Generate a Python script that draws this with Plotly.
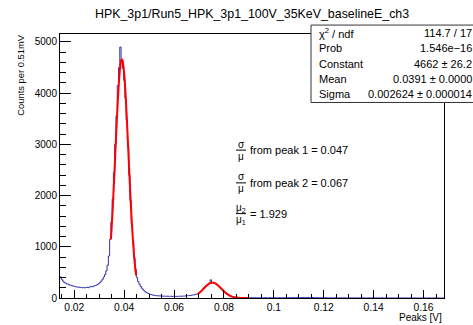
import plotly.graph_objects as go

# ---------------- data ----------------
bin_lo = 0.0143
bin_width = 0.00051
counts = [
    410, 360, 330, 300, 290, 275, 270, 255, 250, 240,
    232, 228, 220, 215, 210, 212, 205, 200, 203, 198,
    205, 210, 202, 215, 225, 218, 232, 240, 250, 262,
    280, 300, 330, 365, 410, 460, 530, 640, 820, 1150,
    1480, 1930, 2450, 3000, 3560, 4150, 4500, 4900, 4620, 4480,
    4250, 3900, 3480, 2960, 2400, 1900, 1450, 1080, 780, 560,
    400, 320, 270, 225, 190, 160, 135, 115, 100, 88,
    76, 68, 60, 55, 50, 46, 44, 41, 42, 38,
    36, 37, 35, 33, 36, 34, 32, 35, 30, 33,
    31, 34, 30, 33, 36, 34, 38, 37, 40, 42,
    45, 48, 50, 55, 58, 62, 68, 75, 90, 105,
    128, 152, 178, 205, 232, 250, 275, 292, 355, 310,
    300, 285, 280, 255, 240, 212, 186, 162, 138, 115,
    94, 75, 60, 46, 35, 27, 20, 16, 12, 10,
    8, 7, 8, 6, 7, 6, 5, 6, 7, 5,
    6, 5, 6, 5, 4, 6, 5, 5, 4, 5,
    6, 5, 4, 5, 5, 6, 4, 5, 5, 4,
    5, 5, 6, 5, 4, 6, 5, 5, 6, 7,
    6, 7, 8, 7, 8, 9, 8, 10, 9, 10,
    9, 10, 11, 10, 9, 10, 9, 8, 9, 8,
    7, 7, 6, 6, 5, 5, 4, 5, 4, 4,
    3, 4, 3, 3, 4, 3, 3, 2, 3, 3,
    2, 3, 2, 2, 3, 2, 2, 3, 2, 2,
    2, 2, 2, 1, 2, 2, 1, 2, 2, 1,
    2, 1, 2, 1, 1, 2, 1, 1, 2, 1,
    1, 1, 1, 2, 1, 1, 1, 1, 0, 1,
    1, 1, 1, 0, 1, 1, 0, 1, 1, 0,
    1, 0, 1, 1, 0, 1, 0, 0, 1, 0,
    1, 0, 0, 1, 0, 0, 1, 0, 0, 0,
    1, 0, 0, 0, 1, 0, 0, 0, 0, 0,
    0, 0,
]

fit1_x = [0.0347, 0.0350, 0.0355, 0.0360, 0.0365, 0.0370, 0.0375, 0.0380, 0.0385,
          0.0388, 0.0391, 0.0394, 0.0395, 0.0400, 0.0405, 0.0410, 0.0415, 0.0420,
          0.0425, 0.0430, 0.0435, 0.0440, 0.0445, 0.0448]
fit1_y = [1143, 1375, 1819, 2320, 2854, 3385, 3871, 4270, 4542,
          4632, 4662, 4632, 4608, 4396, 4044, 3587, 3069, 2532,
          2014, 1545, 1143, 815, 561, 440]

fit2_x = [0.0695, 0.0700, 0.0705, 0.0710, 0.0715, 0.0720, 0.0725, 0.0730, 0.0735,
          0.0740, 0.0745, 0.0750, 0.07542, 0.0760, 0.0765, 0.0770, 0.0775, 0.0780,
          0.0785, 0.0790, 0.0795, 0.0800, 0.0810, 0.0820, 0.0830, 0.0840, 0.0850,
          0.0860, 0.0870, 0.0880, 0.0895]
fit2_y = [74, 93, 115, 138, 163, 188, 214, 238, 259,
          277, 290, 298, 300, 296, 286, 272, 253, 230,
          206, 180, 155, 130, 87, 54, 31, 16, 8,
          3.5, 1.4, 0.6, 0.1]

stats_labels = ["χ<sup>2</sup> / ndf", "Prob", "Constant", "Mean", "Sigma"]
stats_values = ["114.7 / 17", "1.546e\u221216", "4662 ± 26.2", "0.0391 ± 0.0000", "0.002624 ± 0.000014"]

title_text = "HPK_3p1/Run5_HPK_3p1_100V_35KeV_baselineE_ch3"
x_title = "Peaks [V]"
y_title = "Counts per 0.51mV"
ratio_texts = ["from peak 1 = 0.047", "from peak 2 = 0.067", "= 1.929"]

# ---------------- figure ----------------
W, H = 473, 325
L, R, T, B = 60, 444, 34, 300


def px(x):
    return (x - L) / (R - L)


def py(y):
    return (B - y) / (B - T)


edges = [bin_lo + bin_width * i for i in range(len(counts) + 1)]
hy = counts + [counts[-1]]

FONT = "Liberation Sans, Arial, Helvetica, sans-serif"
BLUE = "#3030b0"

fig = go.Figure()
fig.add_trace(go.Scatter(x=edges, y=hy, mode="lines", line=dict(color=BLUE, width=1, shape="hv"),
                         hoverinfo="skip", showlegend=False))
fig.add_trace(go.Scatter(x=fit1_x, y=fit1_y, mode="lines", line=dict(color="#ff0000", width=2, shape="spline"),
                         hoverinfo="skip", showlegend=False))
fig.add_trace(go.Scatter(x=fit2_x, y=fit2_y, mode="lines", line=dict(color="#ff0000", width=2, shape="spline"),
                         hoverinfo="skip", showlegend=False))

ann = []
shapes = []

# title
ann.append(dict(text=title_text, x=0.5, y=py(14), xref="paper", yref="paper", showarrow=False,
                xanchor="center", yanchor="middle", font=dict(size=12.4, color="black", family=FONT)))
# axis titles
ann.append(dict(text=y_title, x=px(21), y=py(75), xref="paper", yref="paper", showarrow=False,
                textangle=-90, xanchor="center", yanchor="middle", font=dict(size=9.4, color="black", family=FONT)))
ann.append(dict(text=x_title, x=1.0, y=py(319.5), xref="paper", yref="paper", showarrow=False,
                xanchor="right", yanchor="middle", font=dict(size=10, color="black", family=FONT)))

# stats box
shapes.append(dict(type="rect", xref="paper", yref="paper", x0=px(311), x1=px(490), y0=py(25), y1=py(103),
                   line=dict(color="#333333", width=1), fillcolor="white", layer="above"))
row_y = [33.3, 48.6, 63.8, 79.1, 94.3]
for lab, val, yy in zip(stats_labels, stats_values, row_y):
    ann.append(dict(text=lab, x=px(317), y=py(yy), xref="paper", yref="paper", showarrow=False,
                    xanchor="left", yanchor="middle", font=dict(size=11, color="black", family=FONT)))
    ann.append(dict(text=val, x=px(474), y=py(yy), xref="paper", yref="paper", showarrow=False,
                    xanchor="right", yanchor="middle", font=dict(size=11, color="black", family=FONT)))

# ratio texts
frac_rows = [("σ", "μ", 151), ("σ", "μ", 184), ("μ<sub>2</sub>", "μ<sub>1</sub>", 215)]
for (num, den, yc), txt in zip(frac_rows, ratio_texts):
    ann.append(dict(text=num, x=px(241), y=py(yc - 6), xref="paper", yref="paper", showarrow=False,
                    xanchor="center", yanchor="middle", font=dict(size=10, color="black", family=FONT)))
    ann.append(dict(text=den, x=px(241), y=py(yc + 6), xref="paper", yref="paper", showarrow=False,
                    xanchor="center", yanchor="middle", font=dict(size=10, color="black", family=FONT)))
    shapes.append(dict(type="line", xref="paper", yref="paper", x0=px(236), x1=px(246), y0=py(yc), y1=py(yc),
                       line=dict(color="black", width=1)))
    ann.append(dict(text=txt, x=px(248), y=py(yc), xref="paper", yref="paper", showarrow=False,
                    xanchor="left", yanchor="middle", font=dict(size=11, color="black", family=FONT)))

fig.update_layout(
    width=W, height=H,
    margin=dict(l=L, r=W - R, t=T, b=H - B, pad=0),
    paper_bgcolor="white", plot_bgcolor="white",
    font=dict(family=FONT, color="black"),
    annotations=ann, shapes=shapes,
    showlegend=False,
    hovermode=False,
    xaxis=dict(range=[0.0143, 0.1682], tick0=0, dtick=0.02, ticks="inside", ticklen=8, tickwidth=1,
               tickcolor="black", showline=True, linecolor="black", linewidth=1, mirror=True,
               showgrid=False, zeroline=False, tickfont=dict(size=10.3, color="black", family=FONT),
               minor=dict(tick0=0, dtick=0.005, ticks="inside", ticklen=4, tickcolor="black", showgrid=False)),
    yaxis=dict(range=[0, 5155], tick0=0, dtick=1000, ticks="inside", ticklen=11, tickwidth=1,
               tickcolor="black", showline=True, linecolor="black", linewidth=1, mirror=True,
               showgrid=False, zeroline=False, tickfont=dict(size=10, color="black", family=FONT),
               minor=dict(tick0=0, dtick=200, ticks="inside", ticklen=6, tickcolor="black", showgrid=False)),
)

fig.write_html("out.html", config={"displayModeBar": False, "displaylogo": False, "staticPlot": True},
               post_script="document.body.style.margin='0px';document.body.style.overflow='hidden';")
